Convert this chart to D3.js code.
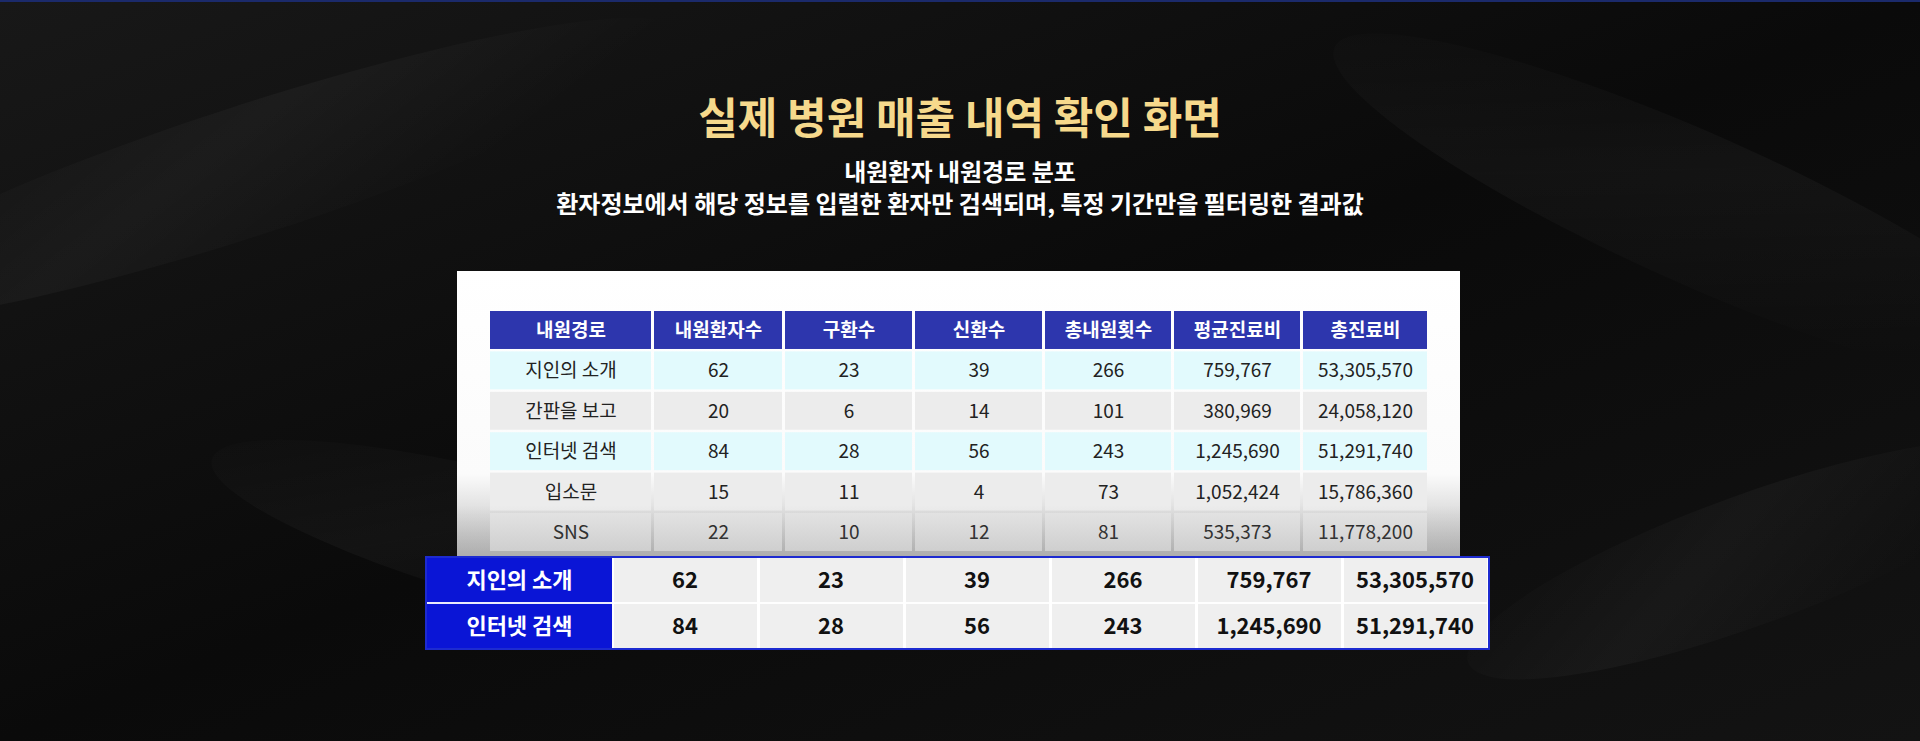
<!DOCTYPE html>
<html><head><meta charset="utf-8">
<script src="https://cdn.jsdelivr.net/npm/d3@7"></script>
<style>
body{margin:0;background:#0c0c0c;overflow:hidden}
</style></head>
<body><div id="chart"></div>
<script>
var headers = ["내원경로", "내원환자수", "구환수", "신환수", "총내원횟수", "평균진료비", "총진료비"];
var routes = ["지인의 소개", "간판을 보고", "인터넷 검색", "입소문", "SNS"];
var patients = [62, 20, 84, 15, 22];
var oldPatients = [23, 6, 28, 11, 10];
var newPatients = [39, 14, 56, 4, 12];
var visits = [266, 101, 243, 73, 81];
var avgCost = [759767, 380969, 1245690, 1052424, 535373];
var totalCost = [53305570, 24058120, 51291740, 15786360, 11778200];
var highlight = ["지인의 소개", "인터넷 검색"];

var W = 1920, H = 741;
var fmt = d3.format(",");
var font = "'Noto Sans CJK KR', 'Noto Sans', sans-serif";

var svg = d3.select("#chart").append("svg").attr("width", W).attr("height", H);
var defs = svg.append("defs");

// dark draped background
var bg = defs.append("linearGradient").attr("id", "bg").attr("x1", 0).attr("y1", 0).attr("x2", 1).attr("y2", 1);
bg.append("stop").attr("offset", "0%").attr("stop-color", "#181818");
bg.append("stop").attr("offset", "50%").attr("stop-color", "#0a0a0a");
bg.append("stop").attr("offset", "100%").attr("stop-color", "#131313");
svg.append("rect").attr("width", W).attr("height", H).attr("fill", "url(#bg)");
var fold = defs.append("linearGradient").attr("id", "fold").attr("x1", 0).attr("y1", 0).attr("x2", 1).attr("y2", 0.4);
fold.append("stop").attr("offset", "0%").attr("stop-color", "#fff").attr("stop-opacity", 0);
fold.append("stop").attr("offset", "50%").attr("stop-color", "#fff").attr("stop-opacity", 0.035);
fold.append("stop").attr("offset", "100%").attr("stop-color", "#fff").attr("stop-opacity", 0);
[[-200, 40, 900, 260, -18], [1300, 60, 800, 300, 24], [200, 420, 700, 260, 15], [1450, 430, 600, 260, -20]].forEach(function (f) {
    svg.append("ellipse").attr("cx", f[0] + f[2] / 2).attr("cy", f[1] + f[3] / 2)
        .attr("rx", f[2] / 2).attr("ry", f[3] / 4).attr("fill", "url(#fold)")
        .attr("transform", "rotate(" + f[4] + "," + (f[0] + f[2] / 2) + "," + (f[1] + f[3] / 2) + ")");
});
svg.append("rect").attr("width", W).attr("height", 2).attr("fill", "#1b2a6b");

// titles
svg.append("text").attr("x", W / 2).attr("y", 134).attr("text-anchor", "middle")
    .style("font-family", font).style("font-size", "43px").style("font-weight", 700)
    .style("fill", "#f6d98c").text("실제 병원 매출 내역 확인 화면");
["내원환자 내원경로 분포", "환자정보에서 해당 정보를 입렬한 환자만 검색되며, 특정 기간만을 필터링한 결과값"].forEach(function (t, i) {
    svg.append("text").attr("x", W / 2).attr("y", 181 + i * 32).attr("text-anchor", "middle")
        .style("font-family", font).style("font-size", "24px").style("font-weight", 700)
        .style("fill", "#fff").text(t);
});

// white panel fading to grey at the bottom
var pg = defs.append("linearGradient").attr("id", "panel").attr("x1", 0).attr("y1", 0).attr("x2", 0).attr("y2", 1);
pg.append("stop").attr("offset", "0%").attr("stop-color", "#ffffff");
pg.append("stop").attr("offset", "70%").attr("stop-color", "#fbfbfb");
pg.append("stop").attr("offset", "100%").attr("stop-color", "#b8b8b8");
svg.append("rect").attr("x", 457).attr("y", 271).attr("width", 1003).attr("height", 290).attr("fill", "url(#panel)");

// main table
var colW = [164, 131, 130, 130, 129, 129, 127];
var colX = [489];
colW.forEach(function (w, i) { colX.push(colX[i] + w); });
var rowsData = routes.map(function (r, i) {
    return [r, patients[i], oldPatients[i], newPatients[i], visits[i], fmt(avgCost[i]), fmt(totalCost[i])];
});
var rowFill = ["#e2fafd", "#ececec", "#e2fafd", "#ececec", "#e6e6e6"];
var y = d3.scaleBand().domain(d3.range(routes.length + 1)).range([311, 551]).paddingInner(0.06);

var g = svg.append("g");
headers.forEach(function (h, j) {
    g.append("rect").attr("x", colX[j] + 1).attr("y", y(0)).attr("width", colW[j] - 3).attr("height", y.bandwidth())
        .attr("fill", "#2d36ad");
    g.append("text").attr("x", colX[j] + colW[j] / 2).attr("y", y(0) + y.bandwidth() / 2 + 7)
        .attr("text-anchor", "middle").style("font-family", font).style("font-size", "19px")
        .style("font-weight", 700).style("fill", "#fff").text(h);
});
rowsData.forEach(function (row, i) {
    var yy = y(i + 1);
    row.forEach(function (v, j) {
        g.append("rect").attr("x", colX[j] + 1).attr("y", yy).attr("width", colW[j] - 3).attr("height", y.bandwidth())
            .attr("fill", rowFill[i]);
        g.append("text").attr("x", colX[j] + colW[j] / 2).attr("y", yy + y.bandwidth() / 2 + 7)
            .attr("text-anchor", "middle").style("font-family", font).style("font-size", "19px")
            .style("fill", "#222").text(v);
    });
});
// fade the lowest row into grey
var fg = defs.append("linearGradient").attr("id", "fade").attr("x1", 0).attr("y1", 0).attr("x2", 0).attr("y2", 1);
fg.append("stop").attr("offset", "0%").attr("stop-color", "#888").attr("stop-opacity", 0);
fg.append("stop").attr("offset", "100%").attr("stop-color", "#888").attr("stop-opacity", 0.3);
svg.append("rect").attr("x", 457).attr("y", 505).attr("width", 1003).attr("height", 56).attr("fill", "url(#fade)");

// highlighted rows
var hx = 427, hw = 1061, labW = 185;
var cellW = (hw - labW) / 6;
var hy = d3.scaleBand().domain(d3.range(highlight.length)).range([558, 648]).paddingInner(0.04);
svg.append("rect").attr("x", hx - 1).attr("y", 557).attr("width", hw + 2).attr("height", 92)
    .attr("fill", "#fff").attr("stroke", "#1d2bd0").attr("stroke-width", 2);
highlight.forEach(function (name, i) {
    var k = routes.indexOf(name);
    var row = rowsData[k];
    var yy = hy(i);
    svg.append("rect").attr("x", hx).attr("y", yy).attr("width", labW).attr("height", hy.bandwidth()).attr("fill", "#0a15d6");
    svg.append("text").attr("x", hx + labW / 2).attr("y", yy + hy.bandwidth() / 2 + 8).attr("text-anchor", "middle")
        .style("font-family", font).style("font-size", "22px").style("font-weight", 700).style("fill", "#fff").text(name);
    row.slice(1).forEach(function (v, j) {
        var x0 = hx + labW + j * cellW;
        svg.append("rect").attr("x", x0 + 2).attr("y", yy).attr("width", cellW - 3).attr("height", hy.bandwidth()).attr("fill", "#efefef");
        svg.append("text").attr("x", x0 + cellW / 2).attr("y", yy + hy.bandwidth() / 2 + 8).attr("text-anchor", "middle")
            .style("font-family", font).style("font-size", "22px").style("font-weight", 700).style("fill", "#111").text(v);
    });
});
</script></body></html>
